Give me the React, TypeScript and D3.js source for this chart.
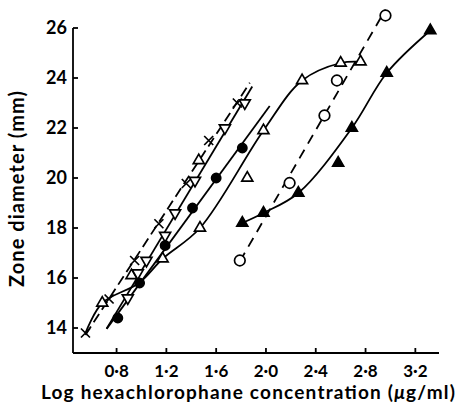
import React from 'react';
import * as d3 from 'd3';

const W = 460;
const H = 412;

const xTicks = [0.8, 1.2, 1.6, 2.0, 2.4, 2.8, 3.2];
const yTicks = [14, 16, 18, 20, 22, 24, 26];

// crosses on a dashed regression line
const crossPts = [[0.55, 13.8], [0.74, 15.16], [0.945, 16.7], [1.14, 18.17], [1.36, 19.78], [1.54, 21.5], [1.77, 23.0]];
const crossRange = [0.55, 1.87];
// upright open triangles lying on the same dashed line
const upTriPts = [[0.685, 15.0], [0.92, 16.1], [1.46, 20.7]];
// inverted open triangles, solid straight line
const downTriPts = [[0.89, 15.2], [0.97, 16.2], [1.04, 16.7], [1.19, 17.7], [1.27, 18.6], [1.43, 19.9], [1.67, 22.0], [1.83, 23.0]];
const downTriRange = [0.72, 1.89];
// filled circles, solid straight line
const dotPts = [[0.81, 14.4], [0.985, 15.8], [1.19, 17.3], [1.41, 18.8], [1.6, 20.0], [1.81, 21.2]];
const dotRange = [0.72, 2.03];
// open triangles, curved line (one stray point off the curve)
const openTriPts = [[1.17, 16.77], [1.47, 18.0], [1.85, 20.0], [1.98, 21.9], [2.29, 23.9], [2.6, 24.6], [2.76, 24.65]];
const openTriCurve = [[0.55, 13.8], [0.685, 15.0], [0.98, 15.8], [1.17, 16.77], [1.47, 18.0], [1.98, 21.9], [2.29, 23.9], [2.6, 24.6], [2.76, 24.65]];
// open circles, dashed straight line
const circlePts = [[1.79, 16.7], [2.19, 19.8], [2.47, 22.5], [2.57, 23.9], [2.96, 26.5]];
const circleRange = [1.79, 2.96];
// filled triangles, curved line
const solidTriPts = [[1.81, 18.2], [1.98, 18.6], [2.26, 19.4], [2.58, 20.6], [2.69, 22.0], [2.97, 24.2], [3.32, 25.9]];
const solidTriCurve = [[1.81, 18.2], [1.98, 18.6], [2.26, 19.4], [2.69, 22.0], [2.97, 24.2], [3.32, 25.9]];

const x = d3.scaleLinear().domain([0.45, 3.39]).range([73, 439]);
const y = d3.scaleLinear().domain([13, 26]).range([353, 28]);

const font = "Lato, 'DejaVu Sans', sans-serif";
const fmt = (v: number) => d3.format('.1f')(v).replace('.', '\u00b7');

// least squares straight line over a given x range
function fitLine(pts: number[][], range: number[]) {
  const mx = d3.mean(pts, (p) => p[0]) as number;
  const my = d3.mean(pts, (p) => p[1]) as number;
  const sxy = d3.sum(pts, (p) => (p[0] - mx) * (p[1] - my));
  const sxx = d3.sum(pts, (p) => (p[0] - mx) ** 2);
  const b = sxy / sxx;
  return range.map((v) => [v, my + b * (v - mx)]);
}

const straight = d3.line<number[]>().x((d) => x(d[0])).y((d) => y(d[1]));
const curved = d3
  .line<number[]>()
  .x((d) => x(d[0]))
  .y((d) => y(d[1]))
  .curve(d3.curveCatmullRom.alpha(0.5));

const tri = d3.symbol(d3.symbolTriangle, 52)() as string;

const App = () => {
  const sw = 1.8;
  return (
    <svg width={W} height={H} style={{ position: 'absolute', left: 0, top: 0, background: '#fff' }}>
      {/* axes */}
      <g stroke="#000" strokeWidth={1.8} fill="none">
        <line x1={x.range()[0]} x2={x.range()[0]} y1={y(26)} y2={y.range()[0]} />
        <line x1={x.range()[0]} x2={x.range()[1]} y1={y.range()[0]} y2={y.range()[0]} />
        {yTicks.map((t) => (
          <line key={t} x1={x.range()[0]} x2={x.range()[0] + 5} y1={y(t)} y2={y(t)} />
        ))}
        {xTicks.map((t) => (
          <line key={t} x1={x(t)} x2={x(t)} y1={y.range()[0]} y2={y.range()[0] - 5} />
        ))}
      </g>
      <g fontFamily={font} fontWeight="bold" fill="#000">
        {yTicks.map((t) => (
          <text key={t} x={67} y={y(t)} dy="0.36em" textAnchor="end" fontSize={18}>
            {t}
          </text>
        ))}
        {xTicks.map((t) => (
          <text key={t} x={x(t)} y={377} textAnchor="middle" fontSize={17}>
            {fmt(t)}
          </text>
        ))}
        <text x={248} y={399} textAnchor="middle" fontSize={19} textLength={414} lengthAdjust="spacing">
          Log hexachlorophane concentration (<tspan fontStyle="italic">{'\u03bc'}</tspan>g/ml)
        </text>
        <text
          transform="translate(24,189) rotate(-90)"
          textAnchor="middle"
          fontSize={20}
          textLength={196}
          lengthAdjust="spacing"
        >
          Zone diameter (mm)
        </text>
      </g>

      {/* lines */}
      <g fill="none" stroke="#000" strokeWidth={sw}>
        <path d={straight(fitLine(crossPts, crossRange)) as string} strokeDasharray="10 5" />
        <path d={straight(fitLine(downTriPts, downTriRange)) as string} />
        <path d={straight(fitLine(dotPts, dotRange)) as string} />
        <path d={curved(openTriCurve) as string} />
        <path d={straight(fitLine(circlePts, circleRange)) as string} strokeDasharray="10 7" />
        <path d={curved(solidTriCurve) as string} />
      </g>

      {/* markers */}
      <g stroke="#000" strokeWidth={1.7}>
        {crossPts.map((p, i) => (
          <path
            key={'c' + i}
            fill="none"
            d={`M${x(p[0]) - 4.5},${y(p[1]) - 4.5}L${x(p[0]) + 4.5},${y(p[1]) + 4.5}M${x(p[0]) - 4.5},${y(p[1]) + 4.5}L${x(p[0]) + 4.5},${y(p[1]) - 4.5}`}
          />
        ))}
        {upTriPts.map((p, i) => (
          <path key={'u' + i} d={tri} fill="#fff" transform={`translate(${x(p[0])},${y(p[1])})`} />
        ))}
        {downTriPts.map((p, i) => (
          <path key={'d' + i} d={tri} fill="#fff" transform={`translate(${x(p[0])},${y(p[1])}) rotate(180)`} />
        ))}
        {openTriPts.map((p, i) => (
          <path key={'o' + i} d={tri} fill="#fff" transform={`translate(${x(p[0])},${y(p[1])})`} />
        ))}
        {dotPts.map((p, i) => (
          <circle key={'f' + i} cx={x(p[0])} cy={y(p[1])} r={4.6} fill="#000" />
        ))}
        {circlePts.map((p, i) => (
          <circle key={'e' + i} cx={x(p[0])} cy={y(p[1])} r={5.3} fill="#fff" />
        ))}
        {solidTriPts.map((p, i) => (
          <path key={'s' + i} d={tri} fill="#000" transform={`translate(${x(p[0])},${y(p[1])})`} />
        ))}
      </g>
    </svg>
  );
};

export default App;
